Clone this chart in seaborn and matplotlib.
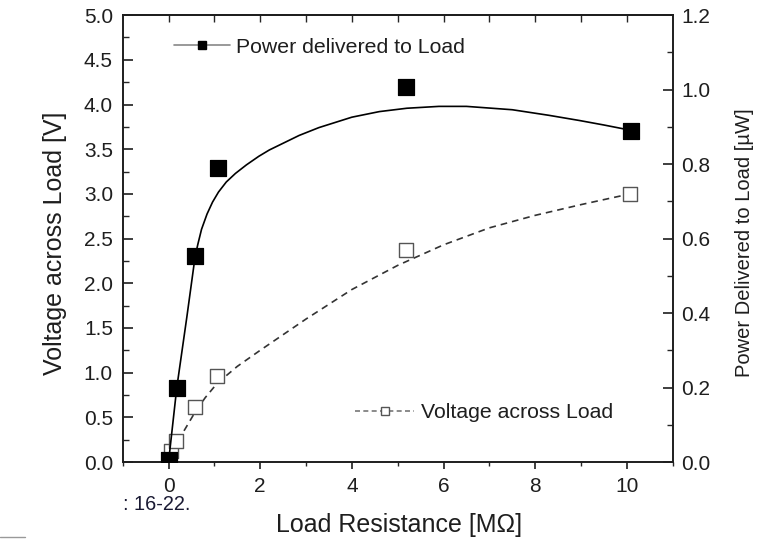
import numpy as np
import pandas as pd
import matplotlib
matplotlib.use('Agg')
import matplotlib.pyplot as plt
from matplotlib.lines import Line2D
from matplotlib.ticker import MultipleLocator, FormatStrFormatter, NullLocator
import seaborn as sns

# measured points
resistance = [0.0, 0.18, 0.58, 1.08, 5.18, 10.1]
power_uw = [0.005, 0.20, 0.552, 0.79, 1.008, 0.89]

v_res = [0.06, 0.16, 0.57, 1.06, 5.18, 10.07]
voltage = [0.12, 0.23, 0.61, 0.96, 2.37, 3.0]

# fitted curves
fit_p_x = [0.0, 0.18, 0.4, 0.58, 0.64, 0.72, 0.84, 0.96, 1.09, 1.26, 1.46, 1.7, 1.97,
           2.2, 2.5, 2.85, 3.28, 4.0, 4.6, 5.2, 5.9, 6.5, 7.5, 8.3, 8.97, 9.5, 10.12]
fit_p_y = [0.0, 0.20, 0.39, 0.552, 0.585, 0.625, 0.666, 0.698, 0.725, 0.752, 0.775,
           0.798, 0.821, 0.838, 0.856, 0.877, 0.898, 0.926, 0.941, 0.95, 0.955, 0.955,
           0.946, 0.931, 0.917, 0.905, 0.89]

fit_v_x = [0.0, 0.06, 0.16, 0.35, 0.57, 0.8, 1.06, 1.5, 2.0, 3.0, 4.0, 5.0, 6.0,
           7.0, 8.0, 9.0, 10.07]
fit_v_y = [0.0, 0.10, 0.20, 0.36, 0.55, 0.72, 0.88, 1.07, 1.25, 1.6, 1.93, 2.2,
           2.43, 2.62, 2.76, 2.88, 3.0]

sns.set_style('ticks')
plt.rcParams['font.family'] = ['Liberation Sans', 'DejaVu Sans']
ink = '#1e1e1e'

fig = plt.figure(figsize=(7.67, 5.41), dpi=100)
ax = fig.add_axes([0.160, 0.146, 0.717, 0.826])
ax2 = ax.twinx()

# voltage (left axis)
sns.lineplot(x=fit_v_x, y=fit_v_y, ax=ax, color='#333333', lw=1.2,
             linestyle=(0, (4, 3)), sort=False)
ax.scatter(v_res, voltage, marker='s', s=110, facecolor='white',
           edgecolor='#555555', linewidths=1.0, zorder=3)

# power (right axis)
sns.lineplot(x=fit_p_x, y=fit_p_y, ax=ax2, color='black', lw=1.2, sort=False)
sns.scatterplot(x=resistance, y=power_uw, ax=ax2, marker='s', s=120,
                color='black', edgecolor='black', zorder=4)

ax.set_xlim(-1.0, 11.0)
ax.set_ylim(0, 5.0)
ax2.set_ylim(0, 1.2)

ax.xaxis.set_major_locator(MultipleLocator(2))
ax.xaxis.set_minor_locator(MultipleLocator(1))
ax.yaxis.set_major_locator(MultipleLocator(0.5))
ax.yaxis.set_minor_locator(MultipleLocator(0.25))
ax2.yaxis.set_major_locator(MultipleLocator(0.2))
ax2.yaxis.set_minor_locator(MultipleLocator(0.1))
ax.yaxis.set_major_formatter(FormatStrFormatter('%.1f'))
ax2.yaxis.set_major_formatter(FormatStrFormatter('%.1f'))

ax.tick_params(axis='x', which='major', direction='out', length=5, width=1.2,
               labelsize=15, colors=ink, pad=6)
ax.tick_params(axis='x', which='minor', direction='out', length=3, width=1.0)
ax.tick_params(axis='y', which='major', direction='in', length=7, width=1.2,
               labelsize=15, colors=ink, pad=7)
ax.tick_params(axis='y', which='minor', direction='in', length=4, width=1.0)
ax2.tick_params(axis='y', which='major', direction='in', length=7, width=1.2,
                labelsize=15, colors=ink, pad=6)
ax2.tick_params(axis='y', which='minor', direction='in', length=4, width=1.0)

top = ax.secondary_xaxis('top')
top.set_xticks(range(0, 11))
top.tick_params(direction='in', length=5, width=1.0, labeltop=False)
top.xaxis.set_minor_locator(NullLocator())

for a in (ax, ax2):
    for s in a.spines.values():
        s.set_visible(True)
        s.set_linewidth(1.2)
        s.set_color(ink)
top.spines['top'].set_linewidth(1.2)

ax.set_xlabel('Load Resistance [MΩ]', fontsize=18, color=ink)
ax.xaxis.set_label_coords(0.503, -0.114)
ax.set_ylabel('Voltage across Load [V]', fontsize=18, color=ink)
ax.yaxis.set_label_coords(-0.101, 0.49)
ax2.set_ylabel('Power Delivered to Load [µW]', fontsize=14.5, color=ink)
ax2.yaxis.set_label_coords(1.114, 0.49)

h_power = Line2D([], [], color='#888888', lw=1.2, marker='s', markersize=6,
                 markerfacecolor='black', markeredgecolor='black')
h_volt = Line2D([], [], color='#777777', lw=1.2, linestyle=(0, (3, 2)), marker='s',
                markersize=6, markerfacecolor='white', markeredgecolor='#555555')
leg1 = ax2.legend(handles=[h_power], labels=['Power delivered to Load'], loc='center left',
                  bbox_to_anchor=(0.094, 0.928), frameon=False, fontsize=15.3,
                  handlelength=2.6, handletextpad=0.3, borderpad=0, borderaxespad=0,
                  labelcolor=ink)
ax2.add_artist(leg1)
ax2.legend(handles=[h_volt], labels=['Voltage across Load'], loc='center left',
           bbox_to_anchor=(0.422, 0.11), frameon=False, fontsize=15.3,
           handlelength=2.8, handletextpad=0.3, borderpad=0, borderaxespad=0,
           labelcolor=ink)

fig.text(0.160, 0.057, ': 16-22.', fontsize=14.3, color='#1a1a33')
fig.add_artist(Line2D([0.0, 0.033], [0.008, 0.008], color='#999999', lw=1.0))

fig.savefig('out.png', dpi=100)
